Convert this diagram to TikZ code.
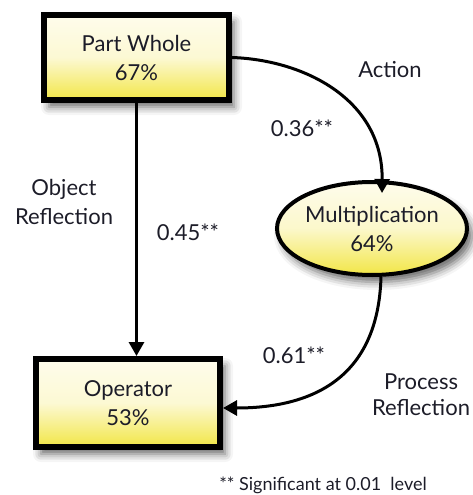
\documentclass[tikz,border=0pt]{standalone}
\usepackage{fontspec}
\setmainfont{Lato}
\usetikzlibrary{arrows.meta,shapes.geometric,shadows.blur}

\definecolor{inkdark}{RGB}{28,28,40}
\definecolor{boxcream}{RGB}{254,252,236}
\definecolor{boxyellow}{RGB}{242,230,70}

\tikzset{
  every node/.style={text=inkdark, font=\fontsize{22}{26}\selectfont},
  lbl/.style={align=center, inner sep=0pt},
  softshadow/.style={blur shadow={shadow xshift=5pt, shadow yshift=-7pt,
    shadow blur radius=8pt, shadow opacity=60}},
  stagebox/.style={draw=black, line width=6pt, rectangle, align=center, inner sep=0pt,
    top color=boxcream, bottom color=boxyellow, middle color=boxcream!85!boxyellow,
    softshadow},
  stageoval/.style={draw=black, line width=4pt, ellipse, align=center, inner sep=0pt,
    top color=boxcream, bottom color=boxyellow, middle color=boxcream!80!boxyellow,
    softshadow},
  link/.style={draw=black, line width=3pt, -{Triangle[length=14pt,width=15pt]}},
}

\begin{document}
\begin{tikzpicture}[x=1pt, y=-1pt]
  \useasboundingbox (0,0) rectangle (472,495);

  % stages
  \node[stagebox, minimum width=185pt, minimum height=85pt] (pw) at (136.5,57.5)
    {Part Whole\\[3pt]67\%};
  \node[stagebox, minimum width=184pt, minimum height=88pt] (op) at (128,403)
    {Operator\\[3pt]53\%};
  \node[stageoval, minimum width=190pt, minimum height=93pt] (mul) at (372,228.5)
    {Multiplication\\[3pt]64\%};

  % paths between stages
  \draw[link] (pw.east) .. controls (305,60) and (383,100) .. ([xshift=10pt, yshift=-13pt]mul.north);
  \draw[link] (pw.south) -- (pw.south |- op.north);
  \draw[link] ([xshift=9pt]mul.south) .. controls (378,380) and (310,408) .. ([yshift=-5pt]op.east);

  % path labels
  \node[lbl] (act) at (390,70) {Action};
  \node[lbl] (c1) at (302,128) {0.36**};
  \node[lbl] (objr) at (64,202) {Object\\[3pt]Reflection};
  \node[lbl] (c2) at (188,232) {0.45**};
  \node[lbl] (c3) at (294,355) {0.61**};
  \node[lbl] (procr) at (421,395) {Process\\Reflection};

  % footnote
  \node[lbl, font=\fontsize{18}{22}\selectfont] (note) at (323,485) {** Significant at 0.01\ \ level};
\end{tikzpicture}
\end{document}
